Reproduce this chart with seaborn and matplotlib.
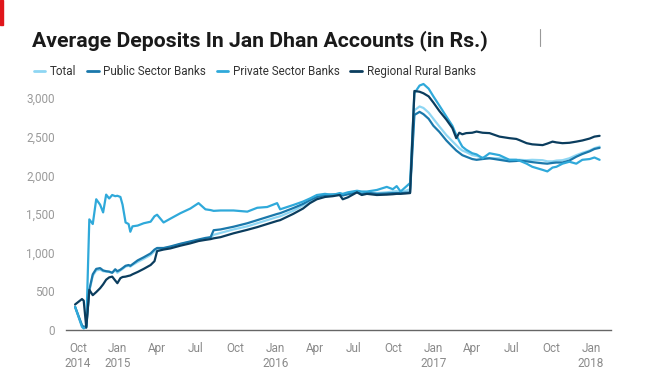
import pandas as pd
import seaborn as sns
import matplotlib.pyplot as plt
import matplotlib.dates as mdates
from matplotlib.ticker import FuncFormatter, FixedLocator

# data (Rs.)
dates = ['2014-09-24', '2014-10-10', '2014-10-14', '2014-10-20', '2014-10-27', '2014-11-04',
         '2014-11-12', '2014-11-21', '2014-11-28', '2014-12-05', '2014-12-12', '2014-12-19',
         '2014-12-26', '2014-12-31', '2015-01-07', '2015-01-12', '2015-01-19', '2015-01-26',
         '2015-01-30', '2015-02-04', '2015-02-16', '2015-03-02', '2015-03-18', '2015-03-27',
         '2015-04-02', '2015-04-17', '2015-05-03', '2015-05-26', '2015-06-18', '2015-07-07',
         '2015-07-23', '2015-08-04', '2015-08-11', '2015-08-27', '2015-09-26', '2015-10-28',
         '2015-11-20', '2015-12-13', '2016-01-05', '2016-01-12', '2016-02-11', '2016-03-05',
         '2016-03-21', '2016-04-06', '2016-04-25', '2016-05-13', '2016-05-29', '2016-06-05',
         '2016-06-17', '2016-07-08', '2016-07-19', '2016-07-31', '2016-08-23', '2016-09-15',
         '2016-09-29', '2016-10-08', '2016-10-17', '2016-10-29', '2016-11-08', '2016-11-18',
         '2016-11-30', '2016-12-09', '2016-12-21', '2017-01-01', '2017-01-15', '2017-01-31',
         '2017-02-14', '2017-02-23', '2017-03-02', '2017-03-09', '2017-03-18', '2017-04-01',
         '2017-04-11', '2017-04-25', '2017-05-11', '2017-06-03', '2017-06-26', '2017-07-12',
         '2017-07-19', '2017-08-05', '2017-08-18', '2017-09-11', '2017-09-22', '2017-10-04',
         '2017-10-13', '2017-10-27', '2017-11-12', '2017-11-28', '2017-12-12', '2017-12-29',
         '2018-01-09', '2018-01-21']

total = [300, 60, 30, 40, 500, 700, 770, 780, 760, 755, 750, 740,
         770, 740, 770, 790, 820, 830, 820, 840, 880, 920, 970, 1020,
         1050, 1055, 1075, 1110, 1140, 1160, 1180, 1195, 1230, 1255, 1300, 1340,
         1380, 1420, 1460, 1470, 1540, 1610, 1665, 1710, 1740, 1755, 1760, 1740,
         1760, 1790, 1760, 1780, 1770, 1780, 1790, 1795, 1780, 1800, 1820, 2840,
         2890, 2870, 2810, 2730, 2630, 2520, 2440, 2390, 2350, 2320, 2300, 2260,
         2250, 2230, 2220, 2220, 2200, 2200, 2200, 2195, 2200, 2195, 2180, 2180,
         2190, 2195, 2220, 2260, 2290, 2320, 2350, 2370]

public = [300, 60, 40, 50, 520, 720, 790, 800, 770, 760, 755, 740,
          785, 760, 780, 800, 830, 840, 830, 850, 900, 940, 990, 1040,
          1060, 1060, 1080, 1115, 1145, 1170, 1190, 1200, 1290, 1300, 1335, 1380,
          1420, 1460, 1500, 1510, 1575, 1630, 1680, 1720, 1745, 1750, 1750, 1740,
          1755, 1780, 1760, 1775, 1760, 1765, 1770, 1770, 1770, 1775, 1780, 2780,
          2820, 2790, 2730, 2640, 2560, 2450, 2370, 2320, 2290, 2260, 2240, 2210,
          2200, 2210, 2220, 2200, 2180, 2185, 2190, 2180, 2170, 2155, 2150, 2160,
          2165, 2165, 2190, 2240, 2275, 2310, 2340, 2355]

private = [300, 40, 20, 40, 1430, 1370, 1690, 1620, 1520, 1750, 1700, 1745,
           1730, 1735, 1720, 1620, 1390, 1370, 1270, 1340, 1350, 1380, 1400, 1470,
           1490, 1390, 1440, 1510, 1570, 1640, 1560, 1550, 1540, 1545, 1545, 1530,
           1580, 1590, 1640, 1560, 1615, 1660, 1700, 1745, 1760, 1745, 1770, 1760,
           1780, 1800, 1790, 1790, 1810, 1850, 1820, 1860, 1790, 1850, 1900, 3060,
           3160, 3180, 3120, 3020, 2900, 2760, 2640, 2520, 2440, 2370, 2330, 2285,
           2270, 2220, 2285, 2260, 2200, 2200, 2190, 2150, 2110, 2070, 2050, 2100,
           2110, 2150, 2175, 2150, 2200, 2210, 2230, 2200]

rrb = [330, 400, 380, 30, 520, 450, 490, 540, 590, 650, 680, 690,
       640, 605, 670, 685, 690, 700, 705, 720, 750, 790, 840, 890,
       1020, 1040, 1055, 1090, 1120, 1150, 1165, 1175, 1185, 1200, 1250, 1295,
       1330, 1370, 1410, 1420, 1500, 1570, 1640, 1690, 1720, 1730, 1745, 1690,
       1715, 1780, 1745, 1760, 1745, 1750, 1755, 1760, 1760, 1765, 1770, 3090,
       3080, 3060, 3020, 2940, 2830, 2720, 2610, 2480, 2550, 2530, 2545, 2550,
       2565, 2550, 2545, 2500, 2480, 2470, 2455, 2415, 2400, 2390, 2410, 2435,
       2425, 2415, 2420, 2435, 2450, 2475, 2500, 2510]

series_names = ['Total', 'Public Sector Banks', 'Private Sector Banks', 'Regional Rural Banks']
colors = ['#8ed6f3', '#1a78ab', '#2fa9da', '#0b3d5e']

df = pd.DataFrame({'Date': pd.to_datetime(dates), 'Total': total,
                   'Public Sector Banks': public, 'Private Sector Banks': private,
                   'Regional Rural Banks': rrb})
long_df = df.melt(id_vars='Date', var_name='Series', value_name='Deposit')

sns.set_style('white')
plt.rcParams['font.family'] = ['Roboto', 'DejaVu Sans']

fig = plt.figure(figsize=(6.62, 3.78), dpi=100)
ax = fig.add_axes([0.0997, 0.127, 0.823, 0.661])

sns.lineplot(data=long_df, x='Date', y='Deposit', hue='Series', hue_order=series_names,
             palette=colors, linewidth=1.6, ax=ax, legend=False)

ax.set_xlim(pd.Timestamp('2014-09-03'), pd.Timestamp('2018-02-16'))
ax.set_ylim(0, 3230)
ax.set_xlabel('')
ax.set_ylabel('')

# y axis
ax.yaxis.set_major_locator(FixedLocator([0, 500, 1000, 1500, 2000, 2500, 3000]))
ax.yaxis.set_major_formatter(FuncFormatter(lambda v, p: f'{int(v):,}'))
ax.tick_params(axis='y', length=0, pad=8, labelsize=8.5, labelcolor='#9a9a9a')

# x axis: quarterly ticks
ax.xaxis.set_major_locator(mdates.MonthLocator(bymonth=[1, 4, 7, 10]))
def month_fmt(v, p):
    d = mdates.num2date(v)
    if d.month == 1 or (d.year == 2014 and d.month == 10):
        return d.strftime('%b\n%Y')
    return d.strftime('%b')
ax.xaxis.set_major_formatter(FuncFormatter(month_fmt))
ax.tick_params(axis='x', length=5, width=1, color='#555555', direction='out',
               labelsize=8.5, labelcolor='#8a8a8a', pad=4)

for s in ['top', 'right', 'left']:
    ax.spines[s].set_visible(False)
ax.spines['bottom'].set_color('#666666')
ax.spines['bottom'].set_linewidth(1)

# title
fig.text(0.048, 0.876, 'Average Deposits In Jan Dhan Accounts (in Rs.)',
         fontsize=15.3, fontweight='bold', color='#1a1a1a')

# legend
handles = [plt.Line2D([], [], color=c, lw=2) for c in colors]
leg = fig.legend(handles, series_names, loc='upper left', bbox_to_anchor=(0.035, 0.855),
                 ncol=4, frameon=False, handlelength=1.0, handletextpad=0.4,
                 columnspacing=0.9, prop={'size': 8.4})
for t in leg.get_texts():
    t.set_color('#333333')

# small page decorations
fig.patches.append(plt.Rectangle((0, 0.935), 0.005, 0.065, transform=fig.transFigure,
                                 color='#e0161b', zorder=5))
fig.lines.append(plt.Line2D([0.816, 0.816], [0.878, 0.923], transform=fig.transFigure,
                            color='#999999', lw=0.8))

fig.savefig('out.png', dpi=100)
